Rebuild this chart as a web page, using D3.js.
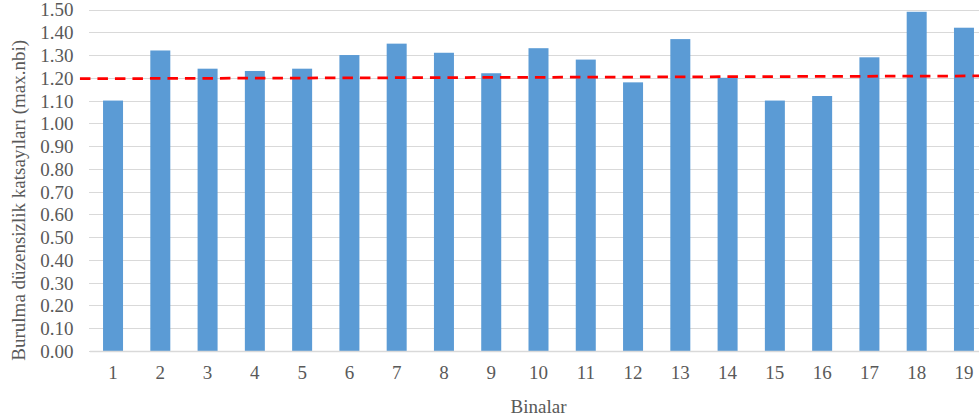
<!DOCTYPE html>
<html>
<head>
<meta charset="utf-8">
<script src="https://cdn.jsdelivr.net/npm/d3@7/dist/d3.min.js"></script>
<style>
  html, body { margin: 0; padding: 0; background: #fff; }
  svg { display: block; }
  text { font-family: "Liberation Serif", "Times New Roman", Times, "DejaVu Serif", serif; fill: #595959; }
</style>
</head>
<body>
<svg id="chart" width="979" height="419"></svg>
<script>
// Building numbers and their torsional irregularity coefficients
const buildings = ["1","2","3","4","5","6","7","8","9","10","11","12","13","14","15","16","17","18","19"];
const coefficients = [1.10, 1.32, 1.24, 1.23, 1.24, 1.30, 1.35, 1.31, 1.22, 1.33, 1.28, 1.18, 1.37, 1.20, 1.10, 1.12, 1.29, 1.49, 1.42];
const yTicks = [0.00, 0.10, 0.20, 0.30, 0.40, 0.50, 0.60, 0.70, 0.80, 0.90, 1.00, 1.10, 1.20, 1.30, 1.40, 1.50];
// Reference limit line (position in building units, value)
const limitPos = [0.3, 19.8];
const limitVal = [1.196, 1.2085];

const yTitle = "Burulma düzensizlik katsayıları (max.nbi)";
const xTitle = "Binalar";

const FONT = '"Liberation Serif", "Times New Roman", Times, "DejaVu Serif", serif';

const svg = d3.select("#chart");
const plot = { left: 89.4, right: 987.6, top: 9.5, bottom: 351 };

const x = d3.scaleBand()
  .domain(buildings)
  .range([plot.left, plot.right])
  .paddingInner(0.577)
  .paddingOuter(0.2885);

const y = d3.scaleLinear()
  .domain([0, 1.5])
  .range([plot.bottom, plot.top]);

const bw = x.bandwidth();
const xPos = d3.scaleLinear()
  .domain([1, 19])
  .range([x("1") + bw / 2, x("19") + bw / 2]);

// Horizontal gridlines and value labels
const yAxis = d3.axisLeft(y)
  .tickValues(yTicks)
  .tickFormat(d3.format(".2f"))
  .tickSize(-(plot.right - plot.left))
  .tickPadding(16);

const gy = svg.append("g")
  .attr("transform", `translate(${plot.left},0)`)
  .call(yAxis)
  .attr("font-family", FONT);
gy.select(".domain").remove();
gy.selectAll(".tick line")
  .attr("stroke", "#d9d9d9")
  .attr("stroke-width", 1)
  .attr("shape-rendering", "crispEdges");
gy.selectAll(".tick text")
  .attr("font-size", 19)
  .attr("fill", "#595959")
  .attr("dy", "0.34em");

// Bars
svg.append("g")
  .selectAll("rect")
  .data(buildings.map((b, i) => ({ b, v: coefficients[i] })))
  .join("rect")
  .attr("x", d => x(d.b))
  .attr("width", bw)
  .attr("y", d => y(d.v))
  .attr("height", d => y(0) - y(d.v))
  .attr("fill", "#5b9bd5");

// Category axis
const xAxis = d3.axisBottom(x).tickSize(0).tickPadding(15);
const gx = svg.append("g")
  .attr("transform", `translate(0,${plot.bottom})`)
  .call(xAxis)
  .attr("font-family", FONT);
gx.select(".domain")
  .attr("stroke", "#d9d9d9")
  .attr("stroke-width", 1.5);
gx.selectAll(".tick text")
  .attr("font-size", 19)
  .attr("fill", "#595959");

// Dashed limit line
svg.append("path")
  .datum(limitPos.map((p, i) => [p, limitVal[i]]))
  .attr("d", d3.line().x(d => xPos(d[0])).y(d => y(d[1])))
  .attr("fill", "none")
  .attr("stroke", "#ff0000")
  .attr("stroke-width", 2.75)
  .attr("stroke-dasharray", "10.5,7");

// Axis titles
svg.append("text")
  .attr("x", (plot.left + plot.right) / 2)
  .attr("y", 413)
  .attr("text-anchor", "middle")
  .attr("font-family", FONT)
  .attr("font-size", 19)
  .text(xTitle);

svg.append("text")
  .attr("transform", `translate(25,${(plot.top + plot.bottom) / 2 + 20}) rotate(-90)`)
  .attr("text-anchor", "middle")
  .attr("font-family", FONT)
  .attr("font-size", 19)
  .text(yTitle);
</script>
</body>
</html>
